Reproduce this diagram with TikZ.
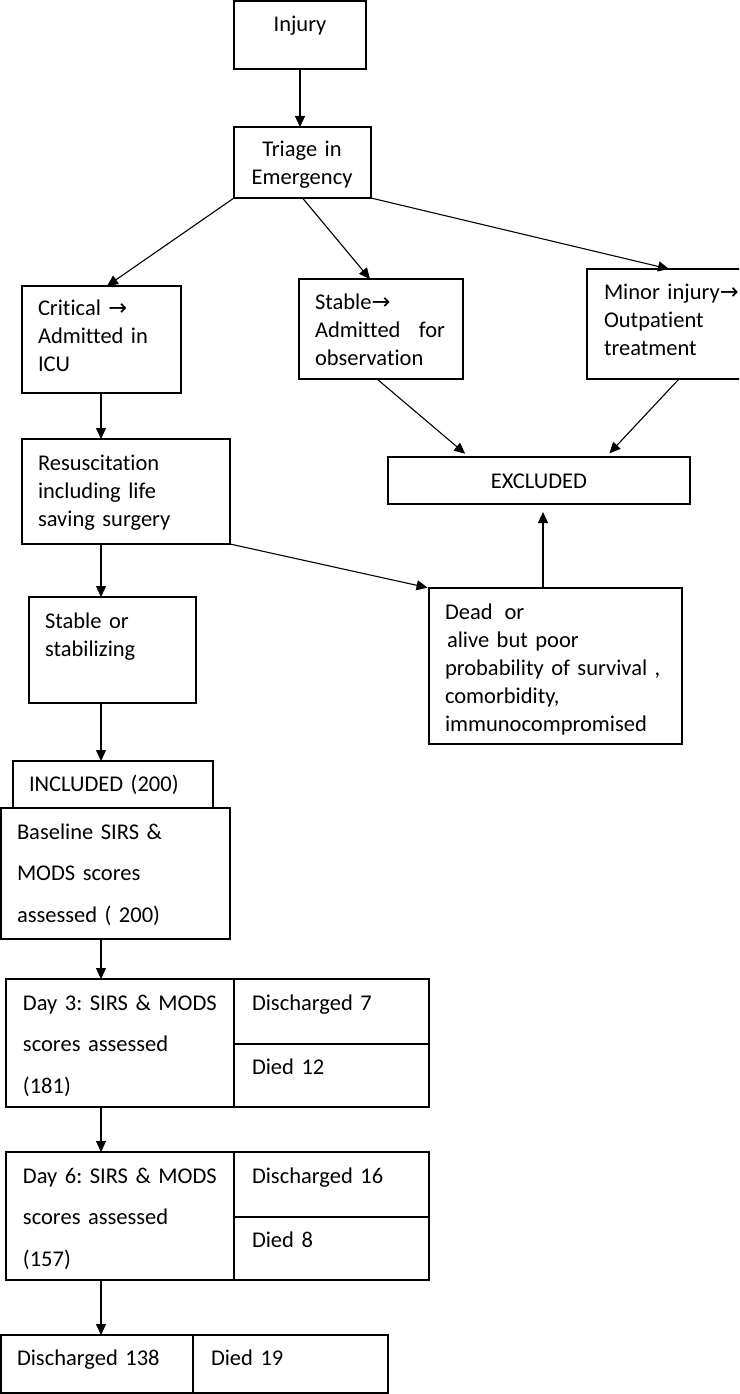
\documentclass[tikz,border=0pt]{standalone}
\usepackage{fontspec}
\setmainfont{Carlito}[Ligatures={NoCommon,NoRequired,NoContextual}]
\newfontfamily\symfont{DejaVu Sans}
\usetikzlibrary{arrows.meta,calc}
\newcommand{\myrarr}{{\symfont\char"2192}}
\newcommand{\mytxtfont}{\fontsize{22.5}{28}\selectfont\spaceskip=4pt\relax}
\newcommand{\mywidefont}{\fontsize{22.5}{41.8}\selectfont\spaceskip=4pt\relax}
\frenchspacing
\begin{document}
\begin{tikzpicture}[x=1pt,y=-1pt,
  box/.style={draw, line width=1.3pt, inner sep=0pt, outer sep=0pt, anchor=north west},
  txt/.style={inner sep=0pt, outer sep=0pt, anchor=base west, align=left, text width=#1,
    font=\mytxtfont},
  wtxt/.style={inner sep=0pt, outer sep=0pt, anchor=base west, align=left, text width=#1,
    font=\mywidefont},
  ctxt/.style={inner sep=0pt, outer sep=0pt, anchor=base, align=center, text width=#1,
    font=\mytxtfont},
  conn/.style={line width=1.1pt, -{Triangle[length=11pt,width=10pt]}}
]
\clip (0,0) rectangle (739,1394);

% boxes
\node[box, minimum width=132pt, minimum height=68pt] (injury) at (234,1) {};
\node[box, minimum width=137pt, minimum height=71pt] (triage) at (234,127) {};
\node[box, minimum width=159pt, minimum height=107pt] (critical) at (22,286) {};
\node[box, minimum width=164pt, minimum height=100pt] (stable) at (299,279) {};
\node[box, minimum width=160pt, minimum height=110pt] (minor) at (587,269) {};
\node[box, minimum width=302pt, minimum height=47pt] (excluded) at (388,457) {};
\node[box, minimum width=208pt, minimum height=105pt] (resus) at (22,439) {};
\node[box, minimum width=167pt, minimum height=106pt] (stableor) at (29,597) {};
\node[box, minimum width=253pt, minimum height=156pt] (dead) at (429,588) {};
\node[box, minimum width=200pt, minimum height=47pt] (included) at (13,761) {};
\node[box, minimum width=229pt, minimum height=131pt] (baseline) at (1,808) {};
\node[box, minimum width=228pt, minimum height=128pt] (day3L) at (6,979) {};
\node[box, minimum width=195pt, minimum height=65pt] (day3a) at (234,979) {};
\node[box, minimum width=195pt, minimum height=63pt] (day3b) at (234,1044) {};
\node[box, minimum width=228pt, minimum height=128pt] (day6L) at (6,1152) {};
\node[box, minimum width=195pt, minimum height=65pt] (day6a) at (234,1152) {};
\node[box, minimum width=195pt, minimum height=63pt] (day6b) at (234,1217) {};
\node[box, minimum width=192pt, minimum height=58pt] (dis138) at (1,1335) {};
\node[box, minimum width=195pt, minimum height=58pt] (died19) at (193,1335) {};

% texts
\node[ctxt=120pt] (tinjury) at (300,32) {Injury};
\node[ctxt=130pt] (ttriage) at (302,157) {Triage in\\Emergency};
\node[txt=140pt] (tcritical) at (38,315) {Critical \myrarr\\Admitted in\\ICU};
\node[txt=130pt] (tstable) at (315,309) {Stable\myrarr\\Admitted\hfill for\\observation};
\node[txt=140pt] (tminor) at (604,299) {Minor injury\myrarr\\Outpatient\\treatment};
\node[ctxt=250pt] (texcluded) at (539,488) {EXCLUDED};
\node[txt=190pt] (tresus) at (38,470) {Resuscitation\\including life\\saving surgery};
\node[txt=150pt] (tstableor) at (45,628) {Stable or\\stabilizing};
\node[txt=235pt] (tdead) at (445,619) {Dead\hspace{12pt}or\\\hspace{2pt}alive but poor\\probability of survival ,\\comorbidity,\\immunocompromised};
\node[txt=185pt] (tincluded) at (29,791) {INCLUDED (200)};
\node[wtxt=210pt] (tbaseline) at (17,839) {Baseline SIRS \&\\MODS scores\\assessed ( 200)};
\node[wtxt=210pt] (tday3) at (23,1010) {Day 3: SIRS \& MODS\\scores assessed\\(181)};
\node[txt=170pt] (tdis7) at (252,1010) {Discharged 7};
\node[txt=170pt] (tdied12) at (252,1074) {Died 12};
\node[wtxt=210pt] (tday6) at (23,1183) {Day 6: SIRS \& MODS\\scores assessed\\(157)};
\node[txt=170pt] (tdis16) at (252,1183) {Discharged 16};
\node[txt=170pt] (tdied8) at (252,1247) {Died 8};
\node[txt=170pt] (tdis138) at (17,1365) {Discharged 138};
\node[txt=170pt] (tdied19) at (211,1365) {Died 19};

% connectors
\coordinate (sp) at (101,0);
\coordinate (dx) at ([xshift=-12.5pt]dead.north);
\draw[conn] (injury.south) -- (injury.south |- triage.north);
\draw[conn] (triage.south west) -- ([xshift=5.5pt]critical.north);
\draw[conn] (triage.south) -- ([xshift=-11pt]stable.north);
\draw[conn] (triage.south east) -- ([xshift=2pt]minor.north);
\draw[conn, shorten >=5pt] ([xshift=-4pt]stable.south) -- ([xshift=-70pt]excluded.north);
\draw[conn, shorten >=5pt] ([xshift=12pt]minor.south) -- ([xshift=67pt]excluded.north);
\draw[conn, shorten >=8pt] (dx) -- (dx |- excluded.south);
\draw[conn, shorten >=1.5pt] (resus.south east) -- (dead.north west);
\draw[conn] (critical.south -| sp) -- (resus.north -| sp);
\draw[conn] (resus.south -| sp) -- (stableor.north -| sp);
\draw[conn] (stableor.south -| sp) -- (included.north -| sp);
\draw[conn] (baseline.south -| sp) -- (day3L.north -| sp);
\draw[conn] (day3L.south -| sp) -- (day6L.north -| sp);
\draw[conn] (day6L.south -| sp) -- (dis138.north -| sp);
\end{tikzpicture}
\end{document}
